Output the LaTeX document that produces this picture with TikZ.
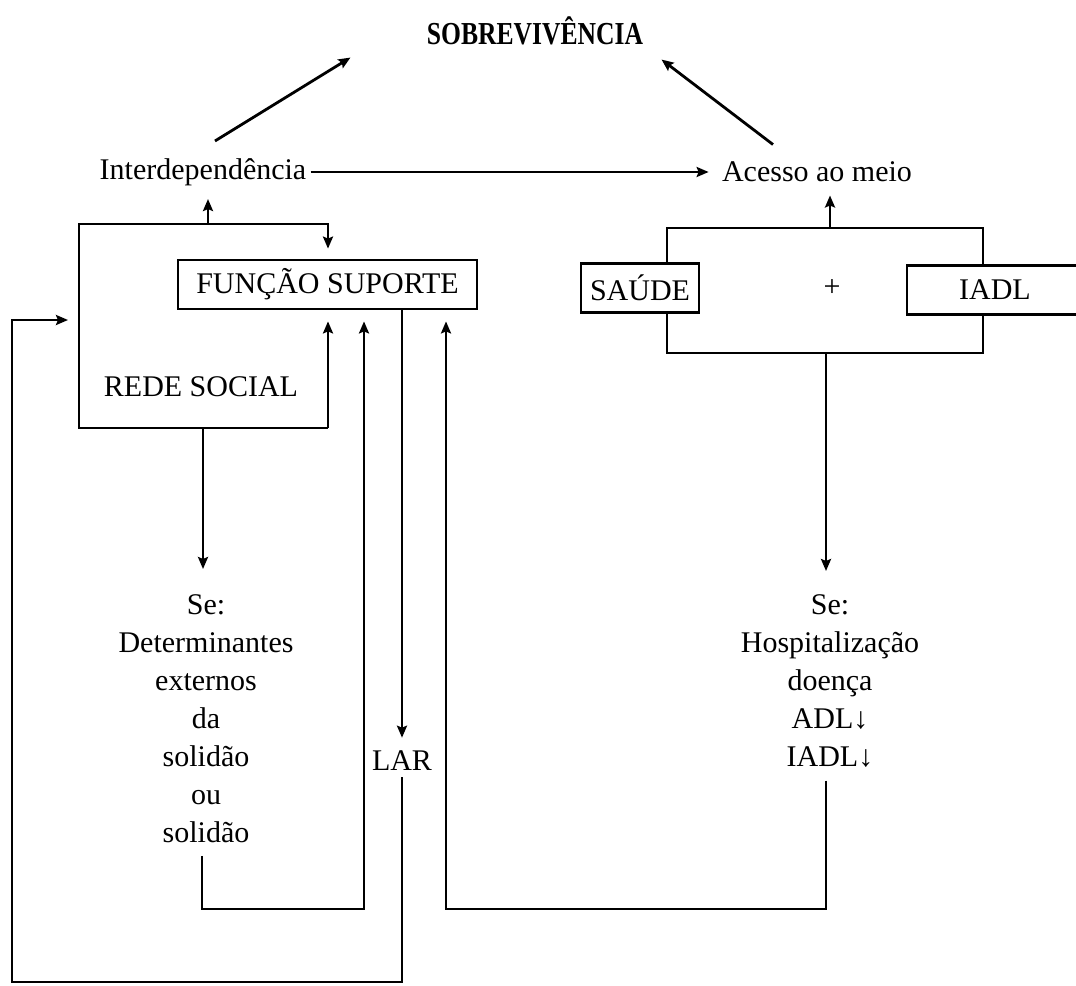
\documentclass[tikz,border=0pt]{standalone}
\usepackage{fontspec}
\setmainfont{Liberation Serif}
\usetikzlibrary{positioning,arrows.meta}
\tikzset{
  caixa/.style={draw,line width=2.8pt,inner sep=0pt,minimum height=49pt,font=\fontsize{30}{38}\selectfont},
  txt/.style={inner sep=0pt,font=\fontsize{30}{38}\selectfont},
}
\begin{document}
\begin{tikzpicture}[>={Stealth[length=12pt,width=10pt,inset=2pt]},x=1pt,y=-1pt,line width=2.8pt]
	\useasboundingbox (0,0) rectangle (1076,985);
	% top
	\node[txt] (sobre) at (535,31) {\scalebox{0.8}[1]{\fontsize{32}{38}\selectfont\bfseries SOBREVIVÊNCIA}};
	\node[txt] (inter) at (203,172) {Interdependência};
	\node[txt] (acesso) at (817,172) {Acesso ao meio};
	\draw[->] ([shift={(12,-16)}]inter.north) -- ([shift={(-75,11)}]sobre.south west);
	\draw[->] ([shift={(-44,-16)}]acesso.north) -- ([shift={(17,13)}]sobre.south east);
	\draw[->] ([xshift=3pt]inter.east) -- ([xshift=-12pt]acesso.west);
	% rede social
	\node[caixa,minimum width=299pt] (funcao) at (327.5,284.5) {FUNÇÃO SUPORTE};
	\node[txt] (rede) at (201,387) {REDE SOCIAL};
	\coordinate (rnw) at (79,224);
	\coordinate (rne) at (328,224);
	\coordinate (rsw) at (79,428);
	\coordinate (rse) at (328,428);
	\coordinate (rup) at (208,224);
	\coordinate (rdown) at (203,428);
	\draw[->] (rse) -- (rsw) -- (rnw) -- (rne) -- ([yshift=10pt]rne |- funcao.north);
	\draw[->] (rse) -- ([yshift=-11pt]rse |- funcao.south);
	\draw[->] (rup) -- ([yshift=-12pt]rup |- inter.south);
	% saude + iadl
	\node[caixa,minimum width=118pt] (saude) at (640,288) {SAÚDE};
	\node[caixa,minimum width=176pt] (iadl) at (995,290) {IADL};
	\node[txt] (mais) at (832,288) {+};
	\coordinate (bnw) at (667,228);
	\coordinate (bne) at (983,228);
	\coordinate (bsw) at (667,353);
	\coordinate (bse) at (983,353);
	\coordinate (bup) at (830,228);
	\coordinate (bdown) at (826,353);
	\draw (saude.north -| bnw) -- (bnw) -- (bne) -- (iadl.north -| bne);
	\draw (saude.south -| bnw) -- (bsw) -- (bse) -- (iadl.south -| bne);
	\draw[->] (bup) -- ([yshift=-12pt]bup |- acesso.south);
	% se ...
	\node[txt,align=center,anchor=north] (solidao) at (206,593) {Se:\\Determinantes\\externos\\da\\solidão\\ou\\solidão};
	\node[txt,align=center,anchor=north] (hosp) at (830,593) {Se:\\Hospitalização\\doença\\ADL↓\\IADL↓};
	\node[txt] (lar) at (402,761) {LAR};
	\draw[->] (rdown) -- ([yshift=24pt]rdown |- solidao.north);
	\draw[->] (bdown) -- ([yshift=22pt]bdown |- hosp.north);
	\draw[->] (funcao.south -| lar) -- ([yshift=12pt]lar.north);
	% loops back
	\coordinate (sup1) at (364,909);
	\coordinate (sup2) at (446,909);
	\coordinate (fundo) at (12,982);
	\coordinate (entra) at (68,320);
	\draw[->] ([xshift=-4pt,yshift=-12pt]solidao.south) |- (sup1) -- ([yshift=-11pt]sup1 |- funcao.south);
	\draw[->] ([xshift=-4pt,yshift=-12pt]hosp.south) |- (sup2) -- ([yshift=-11pt]sup2 |- funcao.south);
	\draw[->] ([yshift=-5pt]lar.south) |- (fundo) |- (entra);
\end{tikzpicture}
\end{document}
